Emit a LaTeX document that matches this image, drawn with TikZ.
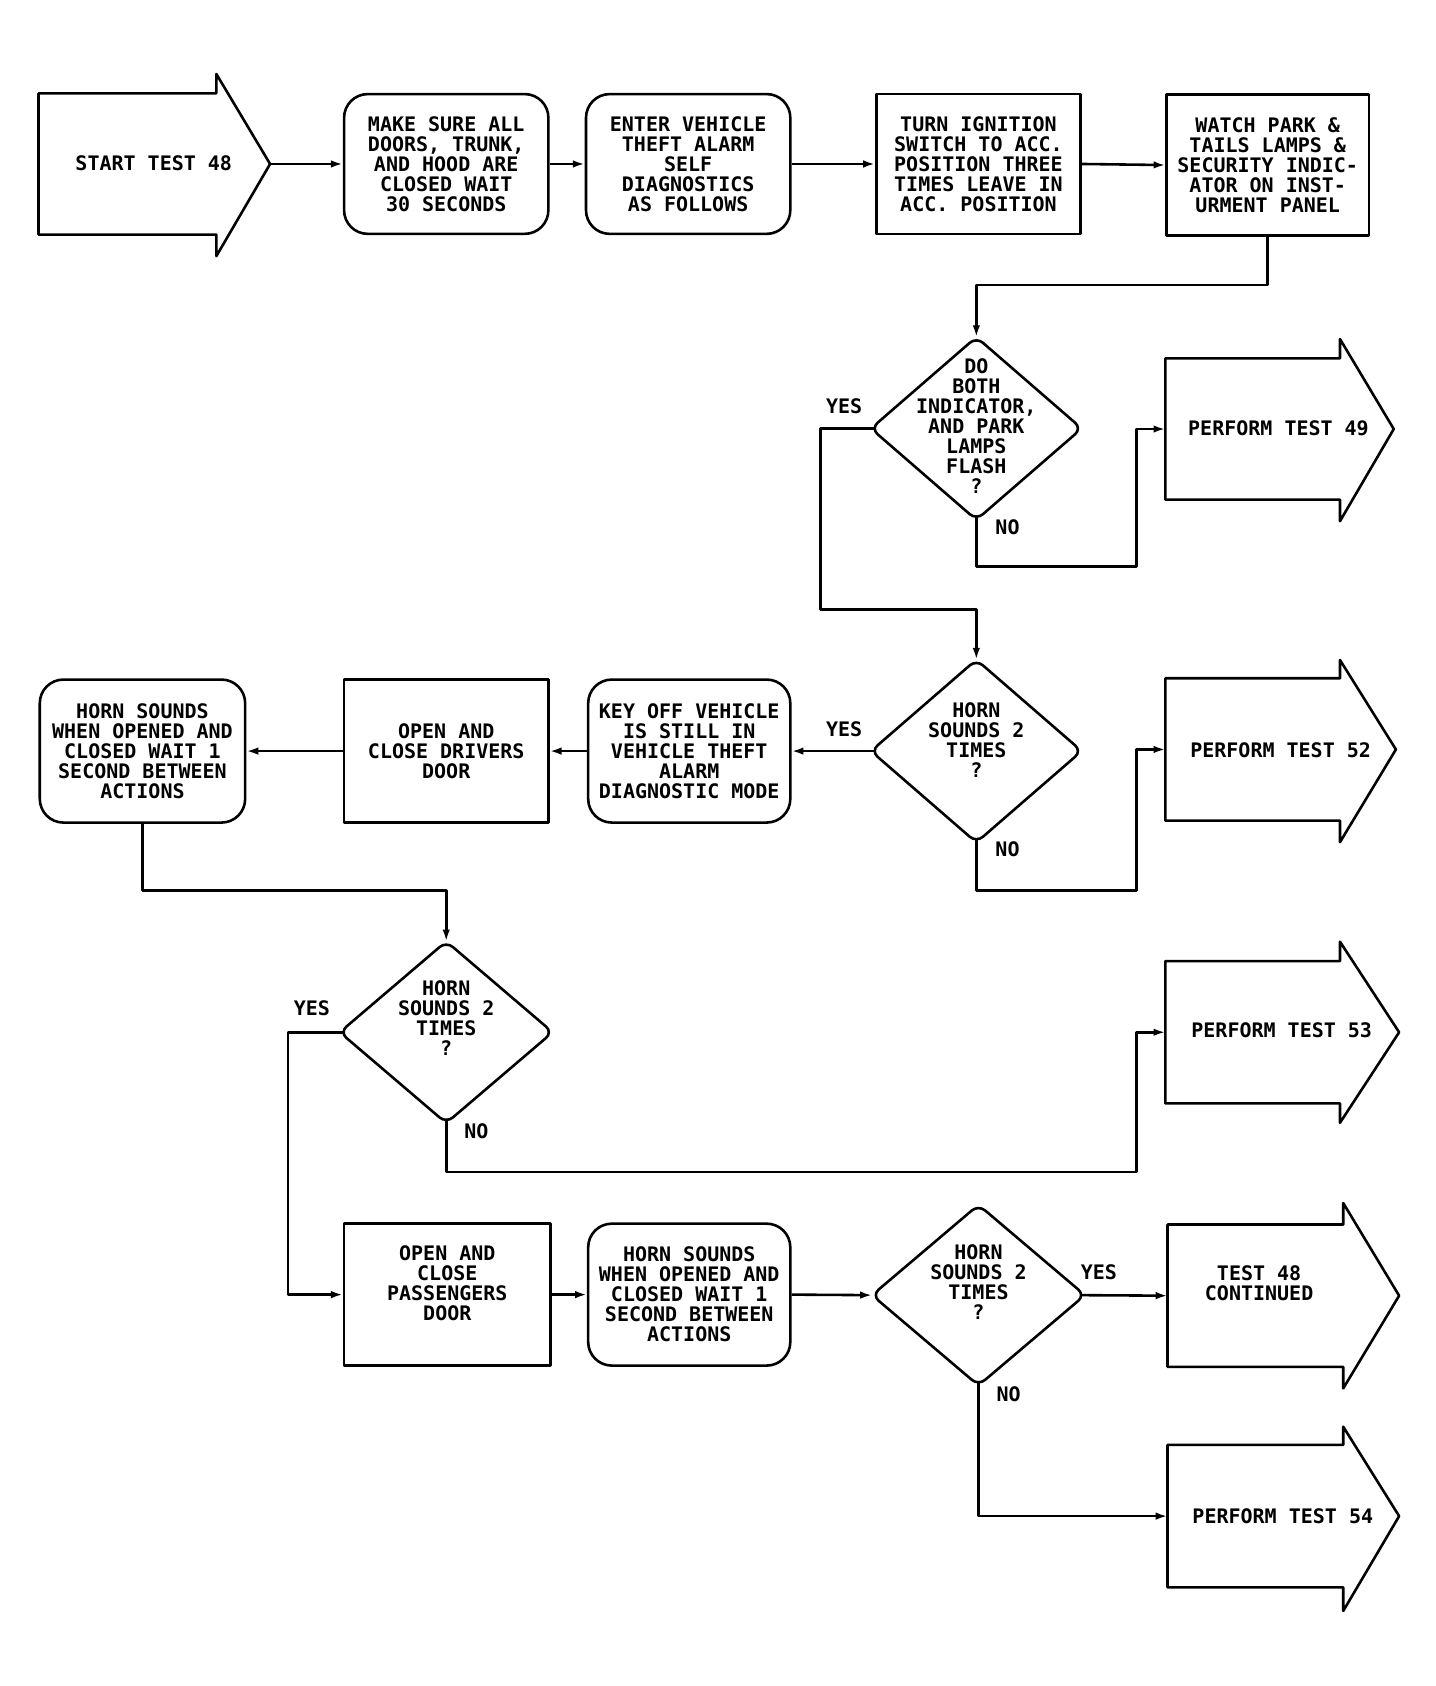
\documentclass[tikz,border=0pt]{standalone}
\usepackage{fontspec}
\newfontfamily\plotfont{DejaVu Sans Mono}
\usetikzlibrary{shapes.geometric,arrows.meta,calc}
\newcommand\termshape[5]{% name, top ext, bottom ext, tip length
  \draw (#1.north west) -- (#1.north east) -- ($(#1.north east)+(0,-#2)$)
    -- ($(#1.east)+(#4,0)$) -- ($(#1.south east)+(0,#3)$) -- (#1.south east)
    -- (#1.south west) -- cycle;}
\begin{document}
\begin{tikzpicture}[x=1pt,y=-1pt,line width=2.4pt,line join=round,
  every node/.style={font=\plotfont\bfseries\fontsize{18.6}{18.6}\selectfont,align=center,inner sep=0pt},
  box/.style={draw,rectangle,minimum width=190pt,minimum height=130pt},
  rbox/.style={box,rounded corners=22pt},
  term/.style={rectangle,minimum width=160pt,minimum height=129pt},
  dia/.style={draw,diamond,outer sep=0pt,minimum width=196pt,minimum height=170pt,rounded corners=8pt},
  arr/.style={-{Latex[length=11pt,width=7pt]}}]
\useasboundingbox (0,0) rectangle (1335,1568);

% ---- row 1
\node[term,minimum width=163pt] (start) at (118.5,152.5) {};
\termshape{start}{18}{20}{50}{}
\node (startt) at (143,152) {START TEST 48};
\node[rbox] (make) at (415,152.5) {MAKE SURE ALL\\DOORS, TRUNK,\\AND HOOD ARE\\CLOSED WAIT\\30 SECONDS};
\node[rbox] (enter) at (640,152.5) {ENTER VEHICLE\\THEFT ALARM\\SELF\\DIAGNOSTICS\\AS FOLLOWS};
\node[box] (turn) at (910,152.5) {TURN IGNITION\\SWITCH TO ACC.\\POSITION THREE\\TIMES LEAVE IN\\ACC. POSITION};
\node[box,minimum width=188pt,minimum height=131pt] (watch) at (1179,153.5) {WATCH PARK \&\\TAILS LAMPS \&\\SECURITY INDIC-\\ATOR ON INST-\\URMENT PANEL};

% ---- decision 1
\node[dia] (d1) at (908,398.5) {};
\node (d1t) at (908,396) {DO\\BOTH\\INDICATOR,\\AND PARK\\LAMPS\\FLASH\\?};
\node[term] (p49) at (1165,399) {};
\termshape{p49}{18}{20}{50}{}
\node (p49t) at (1189,398) {PERFORM TEST 49};

% ---- decision 2 row
\node[dia] (d2) at (908,698.5) {};
\node (d2t) at (908,688) {HORN\\SOUNDS 2\\TIMES\\?};
\node[term,minimum height=130pt] (p52) at (1165,697) {};
\termshape{p52}{17}{20}{52}{}
\node (p52t) at (1191,698) {PERFORM TEST 52};
\node[rbox,minimum width=188pt,minimum height=133pt] (key) at (641,698.5) {KEY OFF VEHICLE\\IS STILL IN\\VEHICLE THEFT\\ALARM\\DIAGNOSTIC MODE};
\node[box,minimum height=133pt] (drivers) at (415,698.5) {OPEN AND\\CLOSE DRIVERS\\DOOR};
\node[rbox,minimum width=191pt,minimum height=133pt] (horn1) at (132.5,698.5) {HORN SOUNDS\\WHEN OPENED AND\\CLOSED WAIT 1\\SECOND BETWEEN\\ACTIONS};

% ---- decision 3
\node[dia,minimum width=198pt,minimum height=169pt] (d3) at (415,960) {};
\node (d3t) at (415,947) {HORN\\SOUNDS 2\\TIMES\\?};
\node[term,minimum height=130pt] (p53) at (1165,960) {};
\termshape{p53}{18}{18}{55}{}
\node (p53t) at (1192,958) {PERFORM TEST 53};

% ---- bottom row
\node[box,minimum width=192pt,minimum height=132pt] (pass) at (416,1204) {};
\node (passt) at (416,1193) {OPEN AND\\CLOSE\\PASSENGERS\\DOOR};
\node[rbox,minimum width=188pt,minimum height=132pt] (horn2) at (641,1204) {HORN SOUNDS\\WHEN OPENED AND\\CLOSED WAIT 1\\SECOND BETWEEN\\ACTIONS};
\node[dia,minimum width=198pt,minimum height=168pt] (d4) at (910,1204.5) {};
\node (d4t) at (910,1192) {HORN\\SOUNDS 2\\TIMES\\?};
\node[term,minimum width=161pt,minimum height=130pt] (t48) at (1167.5,1205) {};
\termshape{t48}{20}{20}{52}{}
\node (t48t) at (1171,1193) {TEST 48\\CONTINUED};
\node[term,minimum width=161pt,minimum height=130pt] (p54) at (1167.5,1410) {};
\termshape{p54}{17}{22}{52}{}
\node (p54t) at (1193,1410) {PERFORM TEST 54};

% ---- labels
\node (y1) at (785,378) {YES};
\node (n1) at (937,490) {NO};
\node (y2) at (785,678) {YES};
\node (n2) at (937,790) {NO};
\node (y3) at (290,938) {YES};
\node (n3) at (443,1052) {NO};
\node (y4) at (1022,1183) {YES};
\node (n4) at (938,1297) {NO};

% ---- connectors (start at the rounded vertices of the diamonds)
\coordinate (starttip) at ($(start.east)+(50,0)$);
\coordinate (d1w) at ($(d1.west)+(3.5,0)$);
\coordinate (d1s) at ($(d1.south)+(0,-3)$);
\coordinate (d2w) at ($(d2.west)+(3.5,0)$);
\coordinate (d2s) at ($(d2.south)+(0,-3)$);
\coordinate (d3w) at ($(d3.west)+(3.5,0)$);
\coordinate (d3s) at ($(d3.south)+(0,-3)$);
\coordinate (d4e) at ($(d4.east)+(-3.5,0)$);
\coordinate (d4s) at ($(d4.south)+(0,-3)$);
\draw[arr] (starttip) -- (make.west);
\draw[arr] (make.east) -- (enter.west);
\draw[arr] (enter.east) -- (turn.west);
\draw[arr] (turn.east) -- (watch.west);
\draw[arr] (watch.south) -- (1179,265) -| (d1.north);
\draw[arr] (d1w) -- (763,398.5) -- (763,567) -| (d2.north);
\draw[arr] (d1s) |- (1057,527) |- (p49.west);
\draw[arr] (d2w) -- (key.east);
\draw[arr] (d2s) |- (1057,828) |- (p52.west);
\draw[arr] (key.west) -- (drivers.east);
\draw[arr] (drivers.west) -- (horn1.east);
\draw[arr] (horn1.south) |- (415,828) -- (d3.north);
\draw[arr] (d3w) -- (268,960) |- (pass.west);
\draw[arr] (d3s) |- (1057,1090) |- (p53.west);
\draw[arr] (pass.east) -- (horn2.west);
\draw[arr] (horn2.east) -- (d4.west);
\draw[arr] (d4e) -- (t48.west);
\draw[arr] (d4s) |- (p54.west);
\end{tikzpicture}
\end{document}
